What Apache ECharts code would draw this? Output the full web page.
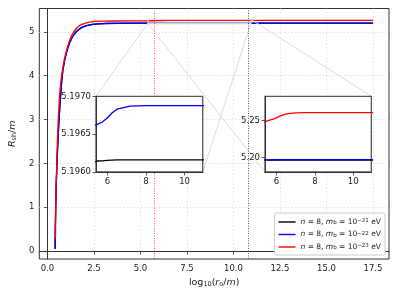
<!DOCTYPE html>
<html><head><meta charset="utf-8">
<script src="https://cdn.jsdelivr.net/npm/echarts@6/dist/echarts.min.js"></script>
<style>html,body{margin:0;padding:0;background:#fff}#c{width:399px;height:299px}</style>
</head><body><div id="c"></div>
<script>
// ---- data ----
const seriesExps = ['\u221221', '\u221222', '\u221223'];
const seriesColors = ['#000000', '#0000ff', '#ff0000'];

const blackX = [0.41,0.42,0.44,0.47,0.51,0.56,0.62,0.68,0.75,0.82,0.90,0.99,1.10,1.21,1.34,1.48,1.65,1.85,2.1,2.35,2.7,3.2,3.8,4.6,5.2,5.46,5.71,5.97,6.23,6.49,6.83,7.18,7.6,8.04,9,10,11,12,14,16,17.5];
const blackY = [0.05,0.5,1.0,1.5,2.0,2.5,3.0,3.4,3.8,4.1,4.3,4.48,4.64,4.77,4.88,4.97,5.04,5.1,5.14,5.164,5.178,5.188,5.193,5.1957,5.19612,5.196145,5.196148,5.196153,5.196157,5.196159,5.19616,5.19616,5.19616,5.19616,5.19616,5.19616,5.19616,5.19616,5.19616,5.19616,5.19616];

const blueX = [0.41,0.42,0.44,0.47,0.51,0.56,0.62,0.68,0.75,0.82,0.90,0.99,1.10,1.21,1.34,1.48,1.65,1.85,2.1,2.35,2.7,3.2,3.8,4.6,5.2,5.46,5.71,5.97,6.23,6.49,6.83,7.18,7.6,8.04,9,10,11,12,14,16,17.5];
const blueY = [0.05,0.5,1.0,1.5,2.0,2.5,3.0,3.4,3.8,4.1,4.3,4.48,4.64,4.77,4.88,4.97,5.04,5.1,5.14,5.165,5.18,5.19,5.194,5.1962,5.1966,5.19663,5.196657,5.19671,5.19678,5.19683,5.19685,5.19687,5.196874,5.196876,5.196876,5.196876,5.196876,5.196876,5.196876,5.196876,5.196876];

const redX = [0.43,0.445,0.46,0.50,0.53,0.58,0.64,0.70,0.76,0.83,0.90,0.99,1.08,1.18,1.29,1.42,1.56,1.75,2.0,2.25,2.53,3.0,3.6,4.5,5.2,5.4,5.65,5.91,6.17,6.43,6.69,7.04,7.5,8.09,9,10,11,12,14,16,17.5];
const redY = [0.29,1.0,1.5,2.0,2.5,3.0,3.5,3.8,4.0,4.2,4.36,4.52,4.66,4.79,4.91,5.0,5.08,5.15,5.19,5.22,5.235,5.241,5.245,5.2472,5.2481,5.2484,5.2507,5.2526,5.256,5.2584,5.2598,5.2605,5.2607,5.2607,5.2607,5.2607,5.2607,5.2607,5.2607,5.2607,5.2607];

const mainXTicks = [0, 2.5, 5, 7.5, 10, 12.5, 15, 17.5];
const mainYTicks = [0, 1, 2, 3, 4, 5];
const insetXTicks = [6, 8, 10];
const inset1YTicks = [5.1960, 5.1965, 5.1970];
const inset2YTicks = [5.20, 5.25];
const markerX = [5.76, 10.77];
const mainXRange = [-0.44, 18.36];
const mainYRange = [-0.18, 5.53];
const insetXRange = [5.4, 10.94];
const inset1YRange = [5.196, 5.197];
const inset2YRange = [5.18, 5.283];

// ---- chart ----
const FONT = 'DejaVu Sans';
const xs = [blackX, blueX, redX], ys = [blackY, blueY, redY];
function pts(i){ return xs[i].map((x,k)=>[x, ys[i][k]]); }

const richBase = {
  it: {fontStyle:'italic', fontFamily:FONT, fontSize:9.5, color:'#222'},
  n: {fontFamily:FONT, fontSize:9.5, color:'#222'},
  sub: {fontFamily:FONT, fontSize:6.5, color:'#222', verticalAlign:'bottom'},
};

function axis(gridIndex, range, ticks, fmt, extra){
  return Object.assign({
    gridIndex, type:'value', min:range[0], max:range[1],
    axisLine:{show:true, lineStyle:{color:'#333', width:1}},
    axisTick:{show:true, customValues:ticks, length:3.5, lineStyle:{color:'#333', width:0.8}},
    axisLabel:{customValues:ticks, formatter:fmt, fontFamily:FONT, fontSize:8.5, color:'#222', margin:5},
    splitLine:{show:false}
  }, extra || {});
}

const mainGrid = {left:34, top:8.5, right:10, bottom:40, show:true, borderColor:'#333', borderWidth:1, backgroundColor:'transparent', z:0};
const inset1Grid = {left:96, top:96.3, width:106.7, height:75.7, show:true, borderColor:'#555', borderWidth:1.3, backgroundColor:'#fff', z:10};
const inset2Grid = {left:265, top:96.3, width:106.3, height:75.7, show:true, borderColor:'#555', borderWidth:1.3, backgroundColor:'#fff', z:10};

const gridSplit = {show:true, lineStyle:{color:'#dcdcdc', type:[1.5,2], width:0.8}};

const xAxes = [
  axis(0, mainXRange, mainXTicks, v=>v.toFixed(1), {splitLine:gridSplit, z:0,
    name:'log{sub|10}({it|r}{sub|o}/{it|m})', nameLocation:'middle', nameGap:17,
    nameTextStyle:{fontFamily:FONT, fontSize:9.5, color:'#222', rich:richBase}}),
  axis(1, insetXRange, insetXTicks, v=>String(v), {z:11}),
  axis(2, insetXRange, insetXTicks, v=>String(v), {z:11}),
];
const yAxes = [
  axis(0, mainYRange, mainYTicks, v=>String(v), {splitLine:gridSplit, z:0,
    name:'{it|R}{sub|sh}/{it|m}', nameLocation:'middle', nameGap:15, nameRotate:90,
    nameTextStyle:{fontFamily:FONT, fontSize:9.5, color:'#222', rich:richBase}}),
  axis(1, inset1YRange, inset1YTicks, v=>v.toFixed(4), {z:11}),
  axis(2, inset2YRange, inset2YTicks, v=>v.toFixed(2), {z:11}),
];

const series = [];
for (let g=0; g<3; g++){
  for (let i=0; i<3; i++){
    const s = {
      type:'line', name:seriesExps[i], xAxisIndex:g, yAxisIndex:g, data:pts(i),
      symbol:'none', smooth:false, clip:true, animation:false,
      lineStyle:{color:seriesColors[i], width:1.3}, itemStyle:{color:seriesColors[i]},
      z: g===0 ? 2 : 12
    };
    if (i===2) {
      s.markLine = {
        symbol:'none', silent:true, animation:false, label:{show:false},
        data:[
          {xAxis:markerX[0], lineStyle:{color: g===0 ? 'rgba(255,0,0,0.75)' : 'rgba(255,80,80,0.45)', type:[1,1.5], width: g===0?0.9:1.3}},
          {xAxis:markerX[1], lineStyle:{color:'rgba(40,40,40,0.85)', type:[1,1.5], width:0.9}}
        ]
      };
    }
    series.push(s);
  }
}

const legendRich = {
  it:{fontStyle:'italic', fontFamily:FONT, fontSize:7.5, color:'#222'},
  t:{fontFamily:FONT, fontSize:7.5, color:'#222'},
  sub:{fontFamily:FONT, fontSize:5.5, color:'#222', verticalAlign:'bottom'},
  sup:{fontFamily:FONT, fontSize:5.5, color:'#222', verticalAlign:'top'}
};

const option = {
  animation:false,
  backgroundColor:'#fff',
  grid:[mainGrid, inset1Grid, inset2Grid],
  xAxis:xAxes, yAxis:yAxes, series,
  legend:{
    data:seriesExps.map((n,i)=>({name:n, icon:'rect', itemStyle:{color:seriesColors[i]}})),
    orient:'vertical', right:14, bottom:44,
    itemWidth:17, itemHeight:1.4, itemGap:4.5,
    padding:[5,4,4,4], borderColor:'#ccc', borderWidth:1, borderRadius:2, backgroundColor:'#fff',
    textStyle:{fontFamily:FONT, fontSize:7.5, color:'#222', rich:legendRich},
    formatter: name => '{it|n}{t| = 8, }{it|m}{sub|b}{t| = 10}{sup|' + name + '}{t| eV}',
    z:20
  }
};

const chart = echarts.init(document.getElementById('c'), null, {renderer:'canvas'});
chart.setOption(option);

// connectors (mark_inset style), built from the axes' own scales
function P(g, p){ return chart.convertToPixel({gridIndex:g}, p); }
const xa = insetXRange;
const graphics = [];
function seg(a,b){ graphics.push({type:'line', shape:{x1:a[0],y1:a[1],x2:b[0],y2:b[1]}, style:{stroke:'#dcdcdc', lineWidth:1}, z:3, silent:true}); }
function box(yr){
  const a = P(0,[xa[0], yr[1]]), b = P(0,[xa[1], yr[0]]);
  graphics.push({type:'rect', shape:{x:a[0], y:a[1], width:b[0]-a[0], height:b[1]-a[1]}, style:{fill:'none', stroke:'#dcdcdc', lineWidth:1}, z:3, silent:true});
}
box(inset1YRange); box(inset2YRange);
// inset 1: upper-left and lower-right corners
seg(P(0,[xa[0], inset1YRange[1]]), P(1,[xa[0], inset1YRange[1]]));
seg(P(0,[xa[1], inset1YRange[0]]), P(1,[xa[1], inset1YRange[0]]));
// inset 2: upper-right and lower-left corners
seg(P(0,[xa[1], inset2YRange[1]]), P(2,[xa[1], inset2YRange[1]]));
seg(P(0,[xa[0], inset2YRange[0]]), P(2,[xa[0], inset2YRange[0]]));
chart.setOption({graphic:graphics});
</script></body></html>
